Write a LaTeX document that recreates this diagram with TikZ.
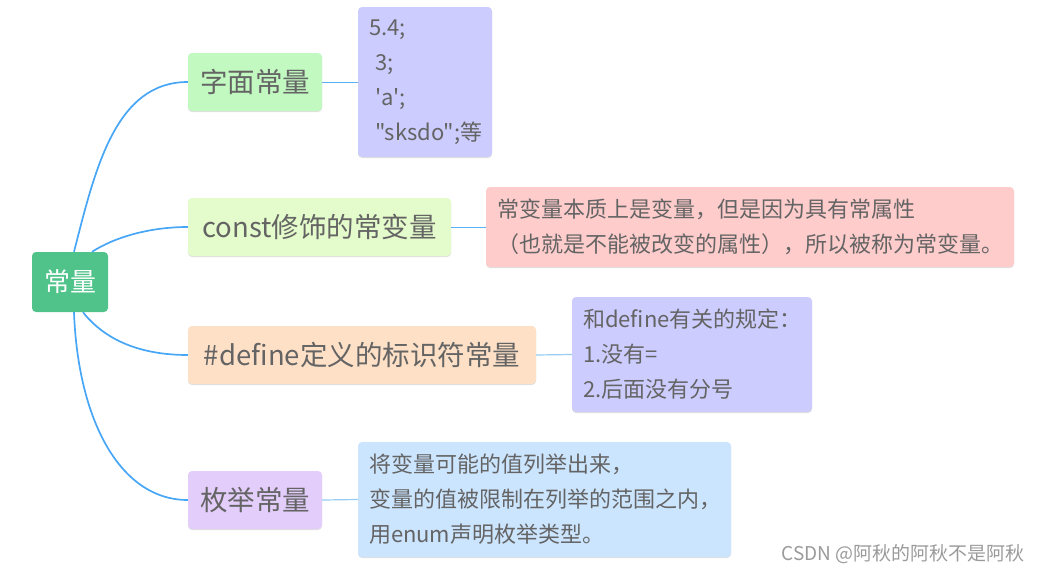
\documentclass[tikz,border=0pt]{standalone}
\usepackage{fontspec}
\newfontfamily\cjk{Noto Sans CJK SC}[Ligatures=TeXOff]
\usetikzlibrary{shadows}
\definecolor{txt}{HTML}{646464}
\definecolor{rootc}{HTML}{50C38A}
\definecolor{litc}{HTML}{C2F9C0}
\definecolor{constc}{HTML}{E4FCCB}
\definecolor{defc}{HTML}{FDE0C6}
\definecolor{enumc}{HTML}{E3CDFB}
\definecolor{violetc}{HTML}{CCCCFF}
\definecolor{pinkc}{HTML}{FFCCCC}
\definecolor{bluec}{HTML}{CCE5FF}
\definecolor{branchc}{HTML}{47A6F5}
\definecolor{linkc}{HTML}{5AB0F5}
\definecolor{linklc}{HTML}{97CDF5}
\definecolor{wmc}{HTML}{9A9A9A}
\begin{document}
\begin{tikzpicture}[x=1pt,y=-1pt,
  every node/.style={font=\cjk},
  boxshadow/.style={drop shadow={shadow xshift=0pt,shadow yshift=-1pt,opacity=0.25,fill=gray}},
  rootbox/.style={rounded corners=4pt,inner sep=0pt,fill=rootc,text=white,
    minimum width=76pt,minimum height=60pt,font=\cjk\fontsize{26}{30}\selectfont},
  topic/.style={rounded corners=4pt,inner sep=0pt,text=txt,boxshadow,
    minimum height=58pt,font=\cjk\fontsize{27.5}{30}\selectfont},
  note/.style={rounded corners=4pt,inner xsep=11pt,inner ysep=0pt,text=txt,boxshadow,
    align=left,font=\cjk\fontsize{22}{35}\selectfont},
  branch/.style={draw=branchc,line width=1.7pt},
  link/.style={draw=linkc,line width=1pt},
  linkl/.style={draw=linklc,line width=1.2pt}]
\useasboundingbox (0,0) rectangle (1042,573);

% root
\node[rootbox] (root) at (70,282) {常量};

% topics
\node[topic,fill=litc,minimum width=134pt] (lit) at (255,82) {字面常量};
\node[topic,fill=constc,minimum width=263pt] (cst) at (319.5,227) {const修饰的常变量};
\node[topic,fill=defc,minimum width=348pt] (def) at (362,355) {\#define定义的标识符常量};
\node[topic,fill=enumc,minimum width=134pt] (enm) at (255,500) {枚举常量};

% notes
\node[note,fill=violetc,text width=112pt,minimum width=134pt,minimum height=150pt] (n1) at (425,82)
  {5.4;\\\hspace*{6pt}3;\\\hspace*{6pt}'a';\\\hspace*{6pt}"sksdo";等};
\node[note,fill=pinkc,text width=506pt,minimum width=526pt,minimum height=80pt] (n2) at (750,227)
  {常变量本质上是变量，但是因为具有常属性\\（也就是不能被改变的属性），所以被称为常变量。};
\node[note,fill=violetc,text width=218pt,minimum width=240pt,minimum height=115pt] (n3) at (692,354.5)
  {和define有关的规定：\\1.没有=\\2.后面没有分号};
\node[note,fill=bluec,text width=351pt,minimum width=373pt,minimum height=115pt] (n4) at (544.5,499.5)
  {将变量可能的值列举出来，\\变量的值被限制在列举的范围之内，\\用enum声明枚举类型。};

% branches
\draw[branch] ([xshift=4pt]root.north) .. controls (95,170) and (115,82) .. (lit.west);
\draw[branch] ([xshift=22pt]root.north) .. controls (115,237) and (150,227) .. (cst.west);
\draw[branch] ([xshift=13pt]root.south) .. controls (105,340) and (140,355) .. (def.west);
\draw[branch] ([xshift=4pt]root.south) .. controls (78,420) and (120,500) .. (enm.west);

% links
\draw[link] (lit.east) -- (n1.west);
\draw[link] (cst.east) -- (n2.west);
\draw[linkl] (def.east) -- (n3.west);
\draw[linkl] (enm.east) -- (n4.west);

% watermark
\node[text=wmc,font=\cjk\fontsize{19}{22}\selectfont,inner sep=0pt] (wm) at (903,554) {CSDN @阿秋的阿秋不是阿秋};
\end{tikzpicture}
\end{document}
